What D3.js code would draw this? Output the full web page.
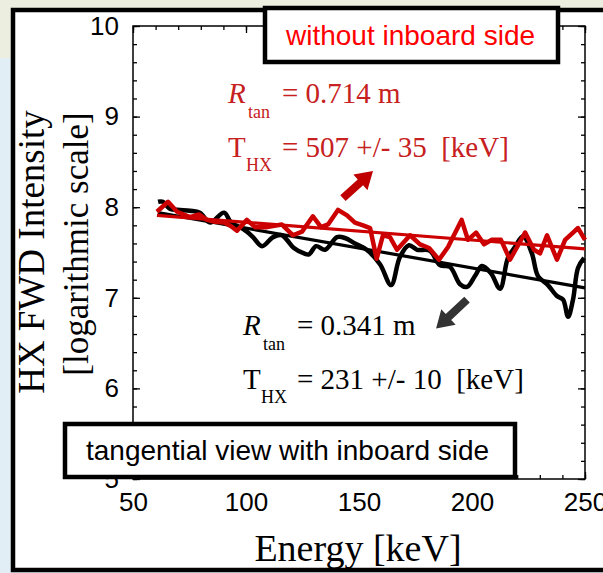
<!DOCTYPE html>
<html>
<head>
<meta charset="utf-8">
<script src="https://cdn.jsdelivr.net/npm/d3@7"></script>
<style>
  body { margin: 0; overflow: hidden; background: #fff; }
</style>
</head>
<body>
<div id="chart"></div>
<script>
// Spectra: [energy keV, log intensity]
var redSpectrum = [
    [60.6,7.95],[65.5,8.06],[69.5,7.95],[75.2,7.89],[79.2,7.92],[82.7,7.86],[86.3,7.84],[90.3,7.83],
    [93.4,7.79],[96.0,7.74],[100.4,7.86],[104.0,7.78],[109.3,7.78],[115.8,7.81],[120.8,7.69],[124.8,7.73],
    [129.6,7.90],[133.2,7.78],[136.3,7.81],[140.7,7.97],[144.7,7.91],[148.2,7.83],[151.8,7.80],[154.9,7.77],
    [157.8,7.43],[160.6,7.69],[163.7,7.67],[166.8,7.53],[172.6,7.69],[177.0,7.59],[181.0,7.55],[185.4,7.42],
    [189.4,7.56],[191.6,7.67],[195.4,7.86],[198.2,7.64],[201.8,7.72],[205.3,7.59],[208.8,7.64],[212.8,7.64],
    [216.8,7.42],[220.4,7.58],[223.5,7.72],[227.4,7.53],[230.1,7.49],[233.2,7.69],[237.6,7.42],[241.2,7.64],
    [244.7,7.72],[246.9,7.77],[250.0,7.64]
];
var blackSpectrum = [
    [61.1,8.06],[63.3,8.06],[66.4,7.98],[70.8,7.97],[75.2,7.96],[79.6,7.94],[84.1,7.83],[90.3,7.94],
    [93.4,7.83],[97.3,7.78],[100.4,7.73],[103.1,7.67],[107.1,7.57],[112.0,7.67],[115.9,7.69],[118.1,7.64],
    [121.2,7.55],[125.7,7.49],[127.9,7.48],[131.0,7.57],[135.0,7.53],[140.3,7.67],[143.8,7.66],[148.2,7.60],
    [153.4,7.53],[159.3,7.37],[164.2,7.14],[168.1,7.45],[172.1,7.58],[175.7,7.53],[181.4,7.52],[185.8,7.36],
    [190.3,7.34],[194.7,7.15],[197.8,7.12],[201.3,7.24],[204.4,7.35],[208.4,7.27],[212.4,7.10],[215.9,7.44],
    [219.0,7.56],[222.6,7.68],[226.5,7.49],[229.2,7.24],[233.6,7.14],[237.6,7.02],[240.3,6.98],[242.5,6.79],
    [244.7,6.98],[246.9,7.33],[249.6,7.44]
];
// Linear fits (end points)
var redFit = [[60.6,7.91],[250,7.54]];
var blackFit = [[61.0,7.94],[250,7.11]];

var xTicks = [50,100,150,200,250];
var yTicks = [5,6,7,8,9,10];

// Arrows in data units: [tail, tip]
var redArrow = [[142.9,8.10],[156.2,8.40]];
var blackArrow = [[197.8,6.98],[184.1,6.66]];

var W = 603, H = 573;
var serif = "'Liberation Serif','Times New Roman',serif";
var sans = "'Liberation Sans',Arial,sans-serif";

var svg = d3.select("#chart").append("svg").attr("width", W).attr("height", H);

// slide background
svg.append("rect").attr("width", W).attr("height", H).attr("fill", "#e2eef5");
svg.append("rect").attr("width", W).attr("height", 58).attr("fill", "#eceee0");
svg.append("rect").attr("x", 13).attr("y", 10).attr("width", 640).attr("height", 560)
    .attr("fill", "#fff").attr("stroke", "#000").attr("stroke-width", 4.5);

var x = d3.scaleLinear().domain([50,250]).range([133,585]);
var y = d3.scaleLinear().domain([5,10]).range([479,26]);

// axes: major + minor ticks on all four sides, pointing inward
function addAxis(axisFn, transform, scale, ticks, size, labels) {
    var a = axisFn(scale).tickValues(ticks).tickSize(size).tickPadding(labels ? 14 : 0)
        .tickFormat(labels ? d3.format("d") : "");
    var g = svg.append("g").attr("transform", transform).call(a);
    g.select(".domain").remove();
    g.selectAll(".tick line").attr("stroke", "#000").attr("stroke-width", 1.3);
    g.selectAll("text").attr("font-family", sans).attr("font-size", 26).attr("fill", "#000");
    return g;
}
var xMinor = d3.range(50, 251, 10), yMinor = d3.range(5, 10.01, 0.2);
addAxis(d3.axisBottom, "translate(0,479)", x, xMinor, -4, false);
addAxis(d3.axisTop, "translate(0,26)", x, xMinor, -4, false);
addAxis(d3.axisLeft, "translate(133,0)", y, yMinor, -4, false);
addAxis(d3.axisRight, "translate(585,0)", y, yMinor, -4, false);
addAxis(d3.axisBottom, "translate(0,479)", x, xTicks, -7, true);
addAxis(d3.axisTop, "translate(0,26)", x, xTicks, -7, false);
addAxis(d3.axisLeft, "translate(133,0)", y, yTicks, -7, true);
addAxis(d3.axisRight, "translate(585,0)", y, yTicks, -7, false);

svg.append("rect").attr("x", 133).attr("y", 26).attr("width", 452).attr("height", 453)
    .attr("fill", "none").attr("stroke", "#000").attr("stroke-width", 1.5);

// data
var line = d3.line().x(function(d){ return x(d[0]); }).y(function(d){ return y(d[1]); });
var smooth = d3.line().x(function(d){ return x(d[0]); }).y(function(d){ return y(d[1]); })
    .curve(d3.curveCatmullRom);

svg.append("path").datum(blackSpectrum).attr("d", smooth)
    .attr("fill", "none").attr("stroke", "#000").attr("stroke-width", 4.5).attr("stroke-linejoin", "round");
svg.append("path").datum(blackFit).attr("d", line)
    .attr("fill", "none").attr("stroke", "#000").attr("stroke-width", 3.2);
svg.append("path").datum(redSpectrum).attr("d", line)
    .attr("fill", "none").attr("stroke", "#cc0000").attr("stroke-width", 4.5).attr("stroke-linejoin", "round");
svg.append("path").datum(redFit).attr("d", line)
    .attr("fill", "none").attr("stroke", "#cc0000").attr("stroke-width", 3.2);

// annotations
function blockArrow(pts, color) {
    var x1 = x(pts[0][0]), y1 = y(pts[0][1]), x2 = x(pts[1][0]), y2 = y(pts[1][1]);
    var L = Math.hypot(x2 - x1, y2 - y1), ang = Math.atan2(y2 - y1, x2 - x1) * 180 / Math.PI;
    var sw = 8, hw = 21, hl = 17;
    var p = [[0,-sw/2],[L-hl,-sw/2],[L-hl,-hw/2],[L,0],[L-hl,hw/2],[L-hl,sw/2],[0,sw/2]];
    svg.append("polygon").attr("points", p.join(" ")).attr("fill", color)
        .attr("transform", "translate(" + x1 + "," + y1 + ") rotate(" + ang + ")");
}
blockArrow(redArrow, "#c00000");
blockArrow(blackArrow, "#333333");

function fitLabel(x0, y0, color, rVal, tVal) {
    var g = svg.append("g").attr("fill", color).attr("font-family", serif);
    g.append("text").attr("x", x0).attr("y", y0).attr("font-size", 29).attr("font-style", "italic").text("R");
    g.append("text").attr("x", x0 + 20).attr("y", y0 + 15).attr("font-size", 18).text("tan");
    g.append("text").attr("x", x0 + 54).attr("y", y0).attr("font-size", 29).text("= " + rVal + " m");
    g.append("text").attr("x", x0).attr("y", y0 + 54).attr("font-size", 29).text("T");
    g.append("text").attr("x", x0 + 18).attr("y", y0 + 68).attr("font-size", 18).text("HX");
    g.append("text").attr("x", x0 + 54).attr("y", y0 + 54).attr("font-size", 29)
        .text("= " + tVal + "\u00a0 [keV]");
}
fitLabel(228, 103, "#c62020", "0.714", "507 +/- 35");
fitLabel(243, 335, "#000", "0.341", "231 +/- 10");

// axis titles
svg.append("text").attr("transform", "translate(44,252) rotate(-90)").attr("text-anchor", "middle")
    .attr("font-family", serif).attr("font-size", 37).text("HX FWD Intensity");
svg.append("text").attr("transform", "translate(88,244) rotate(-90)").attr("text-anchor", "middle")
    .attr("font-family", serif).attr("font-size", 35).text("[logarithmic scale]");
svg.append("text").attr("x", 358).attr("y", 561).attr("text-anchor", "middle")
    .attr("font-family", serif).attr("font-size", 38).text("Energy [keV]");

// label boxes
function labelBox(bx, by, bw, bh, txt, color, tx, ty) {
    svg.append("rect").attr("x", bx).attr("y", by).attr("width", bw).attr("height", bh)
        .attr("fill", "#fff").attr("stroke", "#000").attr("stroke-width", 4.5);
    svg.append("text").attr("x", tx).attr("y", ty).attr("font-family", sans).attr("font-size", 28)
        .attr("fill", color).text(txt);
}
labelBox(265, 8, 293, 54, "without inboard side", "#ff0000", 286, 45);
labelBox(65, 424, 450, 53, "tangential view with inboard side", "#000", 86, 460);
</script>
</body>
</html>
